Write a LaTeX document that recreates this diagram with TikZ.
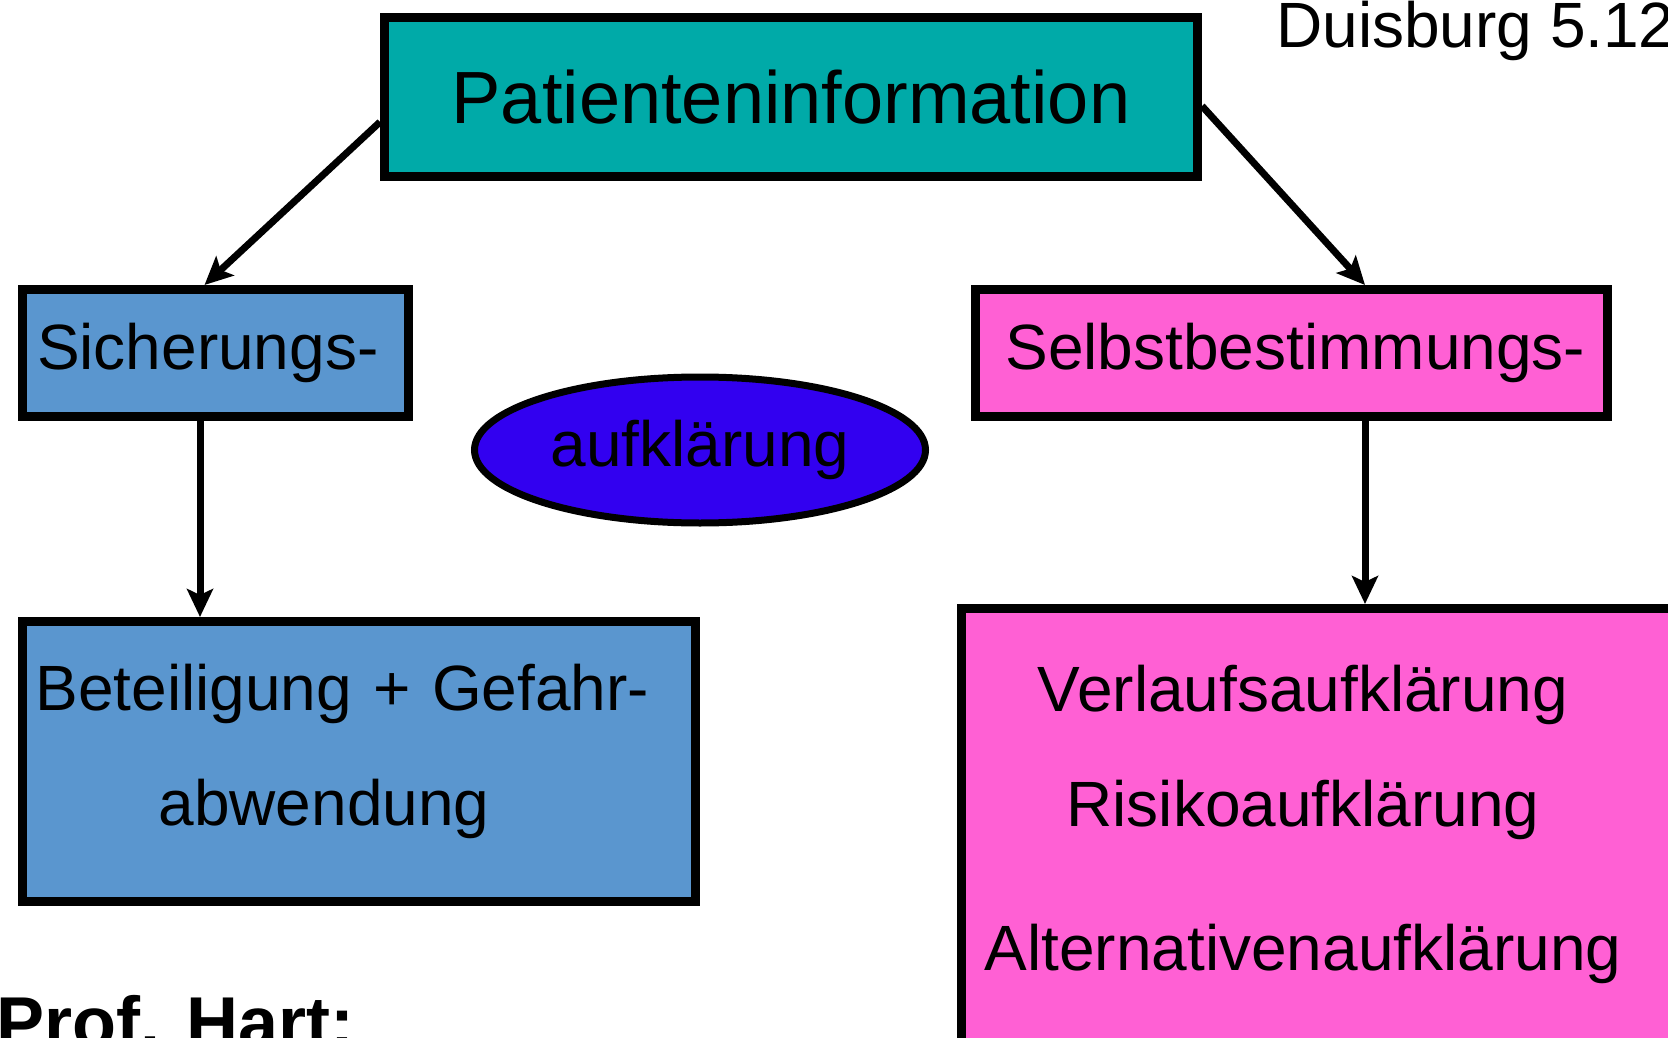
\documentclass[tikz,border=0pt]{standalone}
\usepackage{fontspec}
\setmainfont{Liberation Sans}
\usetikzlibrary{arrows.meta,shapes.geometric}

\definecolor{infoteal}{RGB}{0,170,168}
\definecolor{sicherblue}{RGB}{90,150,207}
\definecolor{selbstpink}{RGB}{255,96,212}
\definecolor{ovalblue}{RGB}{50,0,240}

\tikzset{
  box/.style={draw=black, line width=9pt, inner sep=0pt},
  bigtext/.style={font=\fontsize{64}{115}\selectfont},
  link/.style={draw=black, line width=7pt, -{Stealth[length=28pt,width=26pt,inset=6pt]}},
}

\begin{document}
\begin{tikzpicture}[x=1pt,y=-1pt]

        \useasboundingbox (0,0) rectangle (1668,1038);
        \fill[white] (0,0) rectangle (1668,1038);
        \clip (0,0) rectangle (1668,1038);

        \begin{scope}[every node/.style={box}]
          \node[fill=infoteal, minimum width=813pt, minimum height=159pt,
                font=\fontsize{74}{88}\selectfont] (info) at (791,97) {Patienteninformation};
          \node[fill=sicherblue, minimum width=386pt, minimum height=127pt,
                text width=357pt, inner xsep=14.5pt, align=left, bigtext] (sicher) at (215.5,353) {Sicherungs-};
          \node[fill=selbstpink, minimum width=632pt, minimum height=127pt,
                text width=602pt, inner xsep=15pt, align=left, bigtext] (selbst) at (1291.5,353) {\hspace*{15pt}Selbstbestimmungs-};
          \node[fill=sicherblue, minimum width=673pt, minimum height=280pt,
                text width=647pt, inner xsep=13pt, align=left, bigtext] (bet) at (359,761.5)
                {Beteiligung + Gefahr-\\\hspace*{123pt}abwendung\rule[-33pt]{0pt}{1pt}};
          \node[fill=selbstpink, minimum width=759pt, minimum height=481.5pt] (pink) at (1340.75,849.25) {};
          \node[ellipse, line width=7pt, fill=ovalblue, minimum width=451pt, minimum height=146pt,
                bigtext] (oval) at (700,450) {aufklärung};
        \end{scope}

        \node[align=center, inner sep=0pt, bigtext] (pinklist) at (1303,824)
              {Verlaufsaufklärung\\Risikoaufklärung\\[29pt]Alternativenaufklärung};

        \node[anchor=base west, inner sep=0pt, bigtext] (place) at (1276,48) {Duisburg 5.12};
        \node[anchor=base west, inner sep=0pt, font=\bfseries\fontsize{72}{80}\selectfont] (prof) at (-4,1047) {Prof. Hart:};

        % arrows
        \draw[link] ([yshift=-25pt]info.west) -- ([xshift=-11pt]sicher.north);
        \draw[link] ([yshift=-9pt]info.east) -- ([xshift=73.5pt]selbst.north);
        \draw[link] ([xshift=-15.5pt]sicher.south) -- ([xshift=-159pt]bet.north);
        \draw[link] ([xshift=73.5pt]selbst.south) -- ([xshift=24.25pt]pink.north);

      \end{tikzpicture}
\end{document}
